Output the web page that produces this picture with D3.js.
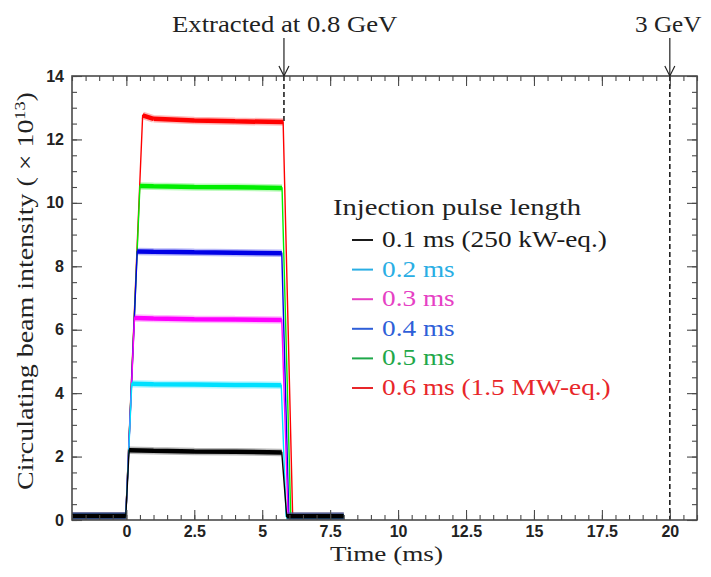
<!DOCTYPE html>
<html>
<head>
<meta charset="utf-8">
<script src="https://cdn.jsdelivr.net/npm/d3@7"></script>
<style>
  html, body { margin: 0; padding: 0; background: #fff; }
  svg { display: block; }
</style>
</head>
<body>
<svg id="chart" width="711" height="577"></svg>
<script>
// Circulating beam intensity versus time for six injection pulse lengths.

// Axis tick values
const xMajorTicks = [0, 2.5, 5, 7.5, 10, 12.5, 15, 17.5, 20];
const yMajorTicks = [0, 2, 4, 6, 8, 10, 12, 14];

// Legend labels, in legend order
const pulseLabels = ["0.1 ms (250 kW-eq.)", "0.2 ms", "0.3 ms", "0.4 ms", "0.5 ms", "0.6 ms (1.5 MW-eq.)"];

// Beam intensity traces (time in ms, intensity in units of 10^13)
const time01 = [-2, -0.02, 0.1, 1.0, 2.5, 4.0, 5.72, 5.9, 8];
const beam01 = [0.13, 0.13, 2.2, 2.18, 2.16, 2.15, 2.13, 0.12, 0.12];
const time02 = [-2, -0.02, 0.2, 1.0, 2.5, 4.0, 5.7, 5.88, 8];
const beam02 = [0.13, 0.13, 4.3, 4.28, 4.27, 4.26, 4.25, 0.12, 0.12];
const time03 = [-2, -0.02, 0.3, 1.0, 2.5, 4.0, 5.72, 5.95, 8];
const beam03 = [0.13, 0.13, 6.37, 6.35, 6.33, 6.32, 6.31, 0.12, 0.12];
const time04 = [-2, -0.02, 0.4, 1.0, 2.5, 4.0, 5.72, 5.98, 8];
const beam04 = [0.13, 0.13, 8.47, 8.46, 8.44, 8.43, 8.41, 0.12, 0.12];
const time05 = [-2, -0.02, 0.5, 1.0, 2.5, 4.0, 5.73, 6.05, 8];
const beam05 = [0.13, 0.13, 10.53, 10.52, 10.5, 10.49, 10.47, 0.12, 0.12];
const time06 = [-2, -0.02, 0.6, 1.0, 2.5, 4.0, 5.77, 6.12, 8];
const beam06 = [0.13, 0.13, 12.76, 12.65, 12.6, 12.57, 12.55, 0.12, 0.12];

// Marker times: extraction at 0.8 GeV and the 3 GeV point
const extractionTime = 5.8;
const topEnergyTime = 20;

// Colours
const traceColors = ["#000000", "#00e0ff", "#ff00ff", "#0000e6", "#00ee00", "#ff0000"];
const labelColors = ["#1a1a1a", "#2aaee4", "#e640c4", "#2f5fd8", "#1fa84a", "#e8262a"];

const traceTimes = [time01, time02, time03, time04, time05, time06];
const traceBeams = [beam01, beam02, beam03, beam04, beam05, beam06];

const serif = "'Liberation Serif', 'DejaVu Serif', serif";
const sans = "'Liberation Sans', Arial, Helvetica, sans-serif";
const frameColor = "#4a4a4a";
const textColor = "#222";

const svg = d3.select("#chart");
const plot = { left: 72, right: 697, top: 76, bottom: 520 };

const x = d3.scaleLinear().domain([-2, 21]).range([plot.left, plot.right]);
const y = d3.scaleLinear().domain([0, 14]).range([plot.bottom, plot.top]);

svg.append("defs").append("clipPath").attr("id", "plotClip")
  .append("rect")
  .attr("x", plot.left).attr("y", plot.top)
  .attr("width", plot.right - plot.left).attr("height", plot.bottom - plot.top);

// Text whose run length is stretched to a given width
function fittedText(parent, opts) {
  const g = parent.append("g")
    .attr("transform", `translate(${opts.x},${opts.y}) rotate(${opts.rotate || 0})`);
  const inner = g.append("g");
  const t = inner.append("text")
    .attr("text-anchor", opts.anchor || "start")
    .style("font-family", serif)
    .style("font-size", opts.size + "px")
    .attr("fill", opts.fill || textColor);
  if (opts.build) opts.build(t); else t.text(opts.text);
  const w = t.node().getBBox().width;
  const k = opts.scale != null ? opts.scale : opts.width / w;
  inner.attr("transform", `scale(${k},1)`);
  return k;
}

// Vertical dashed markers: the extraction marker runs down to the top trace,
// the 3 GeV marker spans the full frame
const markers = svg.append("g");
const topTraceLevel = beam06[6];
[[extractionTime, y(topTraceLevel)], [topEnergyTime, plot.bottom]].forEach(([t, yEnd]) => {
  markers.append("line")
    .attr("x1", x(t)).attr("x2", x(t))
    .attr("y1", plot.top).attr("y2", yEnd)
    .attr("stroke", "#111").attr("stroke-width", 1.5)
    .attr("stroke-dasharray", "5,3");
});

// Traces
const traces = svg.append("g").attr("clip-path", "url(#plotClip)");
const line = d3.line().x(d => x(d[0])).y(d => y(d[1]));

// Draw from the longest pulse down so the shortest sits on top
for (let i = traceTimes.length - 1; i >= 0; i--) {
  const pts = traceTimes[i].map((t, j) => [t, traceBeams[i][j]]);
  traces.append("path")
    .attr("d", line(pts))
    .attr("fill", "none")
    .attr("stroke", traceColors[i])
    .attr("stroke-width", 1.4);

  // Flat stretches of the signal carry visible noise; draw them as a band
  let bandPath = "";
  for (let j = 0; j < pts.length - 1; j++) {
    const dx = Math.abs(x(pts[j + 1][0]) - x(pts[j][0]));
    const dy = Math.abs(y(pts[j + 1][1]) - y(pts[j][1]));
    if (dy < dx) {
      bandPath += `M${x(pts[j][0])},${y(pts[j][1])}L${x(pts[j + 1][0])},${y(pts[j + 1][1])}`;
    }
  }
  traces.append("path")
    .attr("d", bandPath)
    .attr("fill", "none")
    .attr("stroke", traceColors[i])
    .attr("stroke-opacity", 0.28)
    .attr("stroke-width", 7.5);
  traces.append("path")
    .attr("d", bandPath)
    .attr("fill", "none")
    .attr("stroke", traceColors[i])
    .attr("stroke-width", 4.5);
}

// Frame
svg.append("rect")
  .attr("x", plot.left).attr("y", plot.top)
  .attr("width", plot.right - plot.left).attr("height", plot.bottom - plot.top)
  .attr("fill", "none").attr("stroke", frameColor).attr("stroke-width", 1.6);

// Axes with inward ticks
const xMinor = d3.range(-2, 21.001, 0.5);
const yMinor = d3.range(0, 14.001, 0.5);

function styleAxis(g) {
  g.select(".domain").remove();
  g.selectAll(".tick line").attr("stroke", frameColor).attr("stroke-width", 1.1);
  g.selectAll(".tick text")
    .attr("fill", textColor)
    .style("font-family", sans)
    .style("font-weight", "bold")
    .style("font-size", "16px");
}

const fmt = d => String(d);

svg.append("g").attr("transform", `translate(0,${plot.bottom})`)
  .call(d3.axisBottom(x).tickValues(xMinor).tickSize(-5).tickFormat(""))
  .call(styleAxis);
svg.append("g").attr("transform", `translate(0,${plot.bottom})`)
  .call(d3.axisBottom(x).tickValues(xMajorTicks).tickSizeInner(-10).tickSizeOuter(0).tickPadding(6).tickFormat(fmt))
  .call(styleAxis);

svg.append("g").attr("transform", `translate(0,${plot.top})`)
  .call(d3.axisTop(x).tickValues(xMinor).tickSize(-5).tickFormat(""))
  .call(styleAxis);
svg.append("g").attr("transform", `translate(0,${plot.top})`)
  .call(d3.axisTop(x).tickValues(xMajorTicks).tickSize(-10).tickFormat(""))
  .call(styleAxis);

svg.append("g").attr("transform", `translate(${plot.left},0)`)
  .call(d3.axisLeft(y).tickValues(yMinor).tickSize(-5).tickFormat(""))
  .call(styleAxis);
svg.append("g").attr("transform", `translate(${plot.left},0)`)
  .call(d3.axisLeft(y).tickValues(yMajorTicks).tickSizeInner(-10).tickSizeOuter(0).tickPadding(8).tickFormat(fmt))
  .call(styleAxis);

svg.append("g").attr("transform", `translate(${plot.right},0)`)
  .call(d3.axisRight(y).tickValues(yMinor).tickSize(-5).tickFormat(""))
  .call(styleAxis);
svg.append("g").attr("transform", `translate(${plot.right},0)`)
  .call(d3.axisRight(y).tickValues(yMajorTicks).tickSize(-10).tickFormat(""))
  .call(styleAxis);

// Axis titles
fittedText(svg, { x: 330, y: 561, size: 22, width: 113, text: "Time (ms)" });
fittedText(svg, {
  x: 33, y: 291, rotate: -90, anchor: "middle", size: 23, width: 398,
  build: t => {
    t.append("tspan").text("Circulating beam intensity ( \u00d7 10");
    t.append("tspan").attr("dy", -8).style("font-size", "15px").text("13");
    t.append("tspan").attr("dy", 8).text(")");
  }
});

// Arrow annotations above the frame
function arrow(t) {
  const ax = x(t);
  const g = svg.append("g").attr("stroke", "#222").attr("stroke-width", 1.2).attr("fill", "none");
  g.append("line").attr("x1", ax).attr("x2", ax).attr("y1", 38).attr("y2", plot.top);
  g.append("path").attr("d", `M${ax - 5},${plot.top - 10}L${ax},${plot.top}L${ax + 5},${plot.top - 10}`);
}
arrow(extractionTime);
arrow(topEnergyTime);
fittedText(svg, { x: 172, y: 32, size: 23, width: 226, text: "Extracted at 0.8 GeV" });
fittedText(svg, { x: 635, y: 32, size: 23, width: 67, text: "3 GeV" });

// Legend
const legend = svg.append("g");
fittedText(legend, { x: 333, y: 215, size: 23, width: 249, text: "Injection pulse length" });
let entryScale = null;
pulseLabels.forEach((label, i) => {
  const by = 247 + i * 29.6;
  legend.append("line")
    .attr("x1", 352).attr("x2", 373)
    .attr("y1", by - 7).attr("y2", by - 7)
    .attr("stroke", labelColors[i]).attr("stroke-width", 2);
  const opts = { x: 382, y: by, size: 23, fill: labelColors[i], text: label };
  if (entryScale == null) { opts.width = 225; entryScale = fittedText(legend, opts); }
  else { opts.scale = entryScale; fittedText(legend, opts); }
});
</script>
</body>
</html>
